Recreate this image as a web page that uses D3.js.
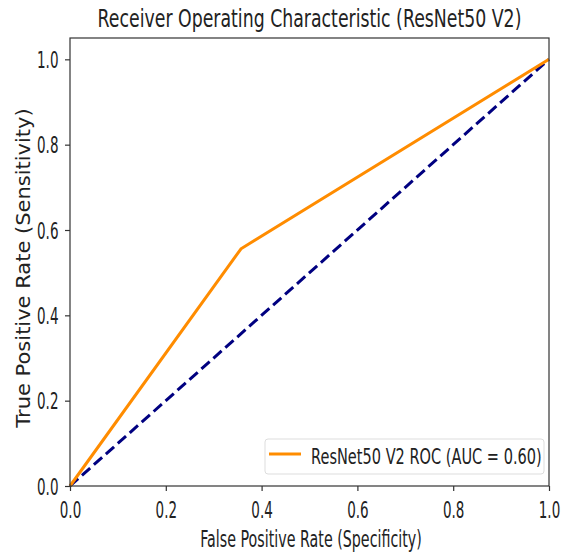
<!DOCTYPE html>
<html>
<head>
<meta charset="utf-8">
<script src="https://cdn.jsdelivr.net/npm/d3@7"></script>
<style>
  body { margin: 0; background: #fff; }
  text { font-family: "DejaVu Sans", sans-serif; fill: #222; }
</style>
</head>
<body>
<div id="chart"></div>
<script>
// ROC curve points
const fpr = [0, 0.357, 1];
const tpr = [0, 0.556, 1];
const chanceLine = [0, 1];
const xTicks = [0, 0.2, 0.4, 0.6, 0.8, 1.0];
const yTicks = [0, 0.2, 0.4, 0.6, 0.8, 1.0];
const legendLabel = "ResNet50 V2 ROC (AUC = 0.60)";

const width = 567, height = 556;
const margin = { top: 38, right: 18, bottom: 70, left: 70 };
const innerWidth = width - margin.left - margin.right;
const innerHeight = height - margin.top - margin.bottom;

// the source image is squeezed sideways, so glyphs get a horizontal squash
const squash = { title: 0.722, label: 0.62, ylabel: 0.95, tick: 0.6, legend: 0.71 };

const svg = d3.select("#chart")
  .append("svg")
    .attr("width", width)
    .attr("height", height);

const innerChart = svg.append("g")
  .attr("transform", `translate(${margin.left}, ${margin.top})`);

const xScale = d3.scaleLinear().domain([0, 1]).range([0, innerWidth]);
const yScale = d3.scaleLinear().domain([0, 1.05]).range([innerHeight, 0]);

// chance diagonal
innerChart.append("path")
  .datum(chanceLine)
  .attr("d", d3.line().x(d => xScale(d)).y(d => yScale(d)))
  .attr("fill", "none")
  .attr("stroke", "#000080")
  .attr("stroke-width", 3)
  .attr("stroke-dasharray", "11,5");

// ROC curve
const rocData = fpr.map((f, i) => ({ x: f, y: tpr[i] }));
innerChart.append("path")
  .datum(rocData)
  .attr("d", d3.line().x(d => xScale(d.x)).y(d => yScale(d.y)))
  .attr("fill", "none")
  .attr("stroke", "#ff8c00")
  .attr("stroke-width", 3);

// frame
innerChart.append("rect")
  .attr("width", innerWidth)
  .attr("height", innerHeight)
  .attr("fill", "none")
  .attr("stroke", "#333")
  .attr("stroke-width", 1.2);

// axes
const bottomAxis = d3.axisBottom(xScale).tickValues(xTicks).tickFormat(d3.format(".1f")).tickSize(5);
const leftAxis = d3.axisLeft(yScale).tickValues(yTicks).tickFormat(d3.format(".1f")).tickSize(5);

const xAxisG = innerChart.append("g")
  .attr("transform", `translate(0, ${innerHeight})`)
  .call(bottomAxis);
const yAxisG = innerChart.append("g").call(leftAxis);

[xAxisG, yAxisG].forEach(g => {
  g.select(".domain").remove();
  g.selectAll(".tick line").attr("stroke", "#333").attr("stroke-width", 1.2);
  g.selectAll(".tick text").attr("font-size", 22.5).style("fill", "#222");
});

xAxisG.selectAll(".tick text")
  .attr("y", 0).attr("dy", 0)
  .attr("transform", `translate(0, 32) scale(${squash.tick}, 1)`);

yAxisG.selectAll(".tick text")
  .attr("x", 0).attr("dy", "0.36em")
  .attr("transform", `translate(-11.5, 0) scale(${squash.tick}, 1)`);

// title
svg.append("text")
  .text("Receiver Operating Characteristic (ResNet50 V2)")
  .attr("transform", `translate(${margin.left + innerWidth / 2}, 27) scale(${squash.title}, 1)`)
  .attr("text-anchor", "middle")
  .attr("font-size", 24);

// axis labels
svg.append("text")
  .text("False Positive Rate (Specificity)")
  .attr("transform", `translate(311, 547) scale(${squash.label}, 1)`)
  .attr("text-anchor", "middle")
  .attr("font-size", 23);

svg.append("text")
  .text("True Positive Rate (Sensitivity)")
  .attr("transform", `translate(30, 268) rotate(-90) scale(1, ${squash.ylabel})`)
  .attr("text-anchor", "middle")
  .attr("font-size", 21);

// legend
const legend = innerChart.append("g")
  .attr("transform", `translate(${innerWidth - 284}, ${innerHeight - 47})`);

legend.append("rect")
  .attr("width", 279)
  .attr("height", 35)
  .attr("rx", 3)
  .attr("fill", "#fff")
  .attr("stroke", "#ddd");

legend.append("line")
  .attr("x1", 4).attr("x2", 36)
  .attr("y1", 15).attr("y2", 15)
  .attr("stroke", "#ff8c00")
  .attr("stroke-width", 3);

legend.append("text")
  .text(legendLabel)
  .attr("transform", `translate(46, 25) scale(${squash.legend}, 1)`)
  .attr("font-size", 20.5);
</script>
</body>
</html>
